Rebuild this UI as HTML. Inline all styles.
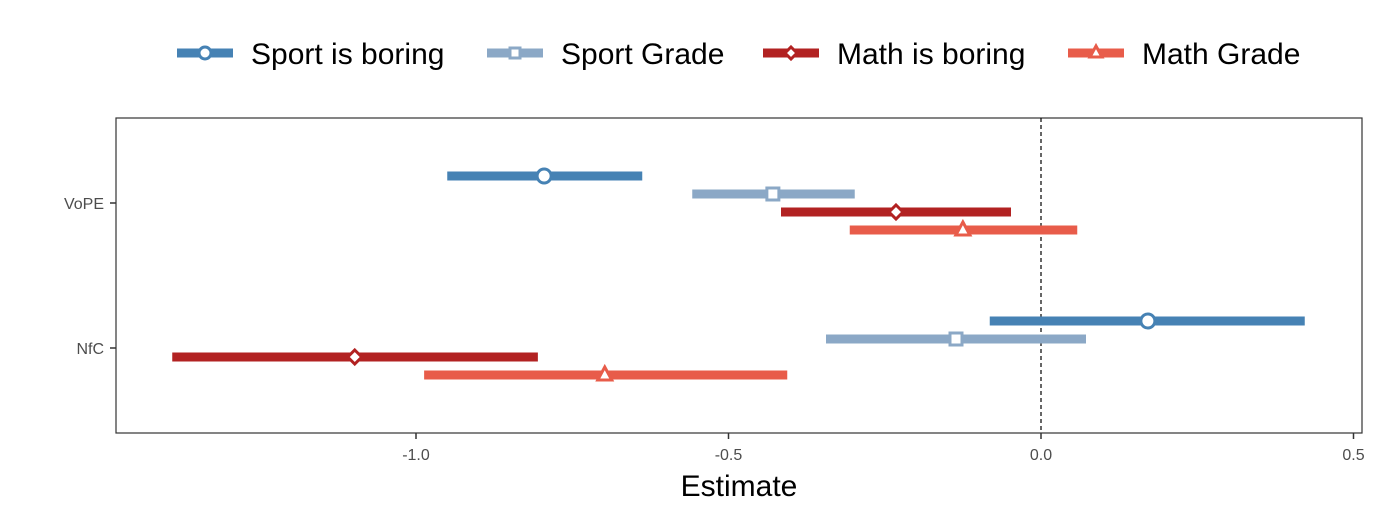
<!DOCTYPE html>
<html><head><meta charset="utf-8"><style>
body{margin:0;background:#fff;font-family:"Liberation Sans",Arial,sans-serif}
</style></head><body>
<svg width="1375" height="516" xmlns="http://www.w3.org/2000/svg">
<g id="legend"></g>
<rect x="116" y="118" width="1246" height="315" fill="none" stroke="#333" stroke-width="1.2"/>
<line x1="1041" x2="1041" y1="118" y2="433" stroke="#000" stroke-dasharray="4,3" stroke-width="1.2"/>
<g id="axes"></g>
<g id="marks"></g>
<text x="739" y="496" font-size="30" text-anchor="middle" fill="#000">Estimate</text>
</svg>
<script>
const categories = ["VoPE", "NfC"];
const seriesNames = ["Sport is boring", "Sport Grade", "Math is boring", "Math Grade"];
const estimates = [[-0.795, 0.171], [-0.429, -0.136], [-0.232, -1.098], [-0.125, -0.698]];
const lower = [[-0.95, -0.082], [-0.558, -0.344], [-0.416, -1.390], [-0.306, -0.987]];
const upper = [[-0.638, 0.422], [-0.298, 0.072], [-0.048, -0.805], [0.058, -0.406]];
const xTicks = [-1.0, -0.5, 0.0, 0.5];
const xTickLabels = ["-1.0", "-0.5", "0.0", "0.5"];

const colors = ["#4682B4", "#8BA8C6", "#B22222", "#E85C4A"];
const shapes = ["circle", "square", "diamond", "triangle"];
const NS = "http://www.w3.org/2000/svg";
const xs = v => 1041 + v * 625;
const catY = [203, 348];
const offsets = [-27, -9, 9, 27];
function mk(tag, attrs, parent) { const e = document.createElementNS(NS, tag); for (const k in attrs) e.setAttribute(k, attrs[k]); parent.appendChild(e); return e; }
function shape(kind, cx, cy, color, parent, s) {
  let e;
  const a = {fill: "#fff", stroke: color, "stroke-width": 3};
  if (kind === "circle") e = mk("circle", Object.assign({cx, cy, r: s}, a), parent);
  else if (kind === "square") e = mk("rect", Object.assign({x: cx - s + 1, y: cy - s + 1, width: 2 * s - 2, height: 2 * s - 2}, a), parent);
  else if (kind === "diamond") e = mk("polygon", Object.assign({points: `${cx},${cy - s} ${cx + s},${cy} ${cx},${cy + s} ${cx - s},${cy}`}, a), parent);
  else e = mk("polygon", Object.assign({points: `${cx},${cy - s - 1} ${cx + s},${cy + s - 2} ${cx - s},${cy + s - 2}`}, a), parent);
  return e;
}
const axes = document.getElementById("axes");
xTicks.forEach((t, i) => {
  const l = mk("line", {x1: xs(t), x2: xs(t), y1: 433, y2: 439, stroke: "#333", "stroke-width": 1.5}, axes);
  
  
  const tx = mk("text", {x: xs(t), y: 460, "font-size": 16, fill: "#4d4d4d", "text-anchor": "middle"}, axes);
  tx.textContent = xTickLabels[i];
  
  
});
categories.forEach((c, i) => {
  const l = mk("line", {x1: 110, x2: 116, y1: catY[i], y2: catY[i], stroke: "#333", "stroke-width": 1.5}, axes);
  
  
  const tx = mk("text", {x: 104, y: catY[i] + 6, "font-size": 16, fill: "#4d4d4d", "text-anchor": "end"}, axes);
  tx.textContent = c;
  
  
});
const marks = document.getElementById("marks");
seriesNames.forEach((s, si) => {
  categories.forEach((c, ci) => {
    const y = catY[ci] + offsets[si];
    const l = mk("line", {x1: xs(lower[si][ci]), x2: xs(upper[si][ci]), y1: y, y2: y, stroke: colors[si], "stroke-width": 9}, marks);
    
    
    const p = shape(shapes[si], xs(estimates[si][ci]), y, colors[si], marks, 7);
    
    
  });
});
const legend = document.getElementById("legend");
const legX = [177, 487, 763, 1068];
seriesNames.forEach((s, si) => {
  const g = mk("g", {}, legend);
  
  
  mk("line", {x1: legX[si], x2: legX[si] + 56, y1: 53, y2: 53, stroke: colors[si], "stroke-width": 9}, g);
  shape(shapes[si], legX[si] + 28, 53, colors[si], g, 6);
  const t = mk("text", {x: legX[si] + 74, y: 64, "font-size": 30, fill: "#000"}, g);
  t.textContent = s;
});
</script>
</body></html>
